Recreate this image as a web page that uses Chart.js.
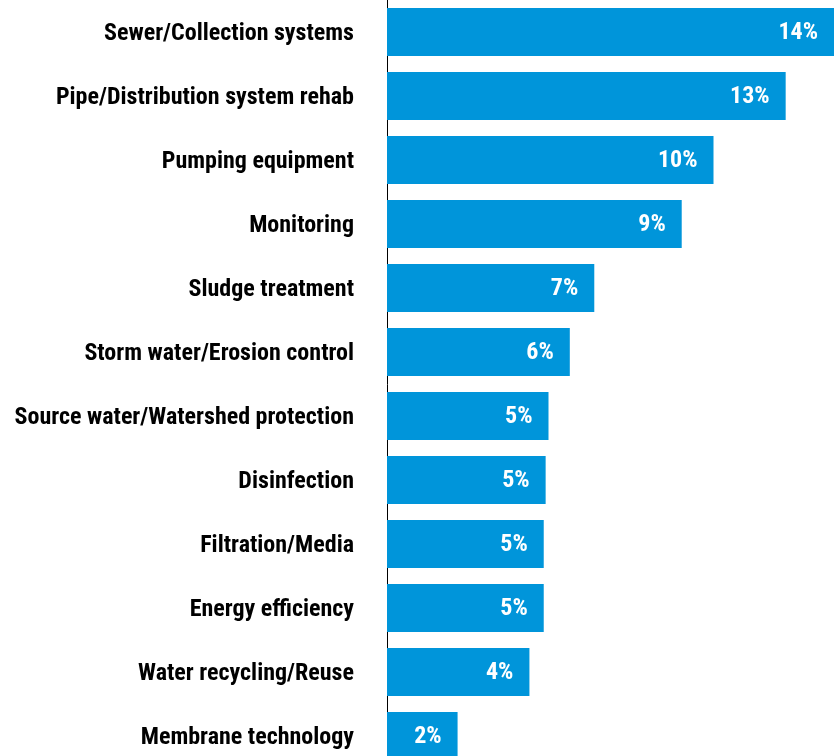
<!DOCTYPE html>
<html>
<head>
<meta charset="utf-8">
<script src="https://cdn.jsdelivr.net/npm/chart.js@4"></script>
<style>
  html, body { margin: 0; padding: 0; background: #fff; overflow: hidden; }
  #wrap { width: 834px; height: 768px; }
</style>
</head>
<body>
<div id="wrap"><canvas id="myChart" width="834" height="768"></canvas></div>
<script>
const categories = [
    "Sewer/Collection systems",
    "Pipe/Distribution system rehab",
    "Pumping equipment",
    "Monitoring",
    "Sludge treatment",
    "Storm water/Erosion control",
    "Source water/Watershed protection",
    "Disinfection",
    "Filtration/Media",
    "Energy efficiency",
    "Water recycling/Reuse",
    "Membrane technology"
];
const shares = [14.06, 12.54, 10.27, 9.27, 6.52, 5.75, 5.08, 4.99, 4.93, 4.93, 4.48, 2.22];

const barColor = "rgb(0, 149, 218)";
const fontFamily = "'Roboto Condensed', 'Liberation Sans Narrow', sans-serif";

window.addEventListener('DOMContentLoaded', () => {
    setChart();
});

// white percentage text at the end of each bar
const valueLabels = {
    id: 'valueLabels',
    afterDatasetsDraw(chart) {
        const ctx = chart.ctx;
        const meta = chart.getDatasetMeta(0);
        ctx.save();
        ctx.fillStyle = '#fff';
        ctx.font = "bold 24px " + fontFamily;
        ctx.textAlign = 'right';
        ctx.textBaseline = 'middle';
        meta.data.forEach((bar, i) => {
            ctx.fillText(Math.round(shares[i]) + '%', bar.x - 16, bar.y + 1);
        });
        ctx.restore();
    }
};

function setChart() {
    const ctx = document.getElementById('myChart').getContext('2d');
    new Chart(ctx, {
        type: 'bar',
        data: {
            labels: categories,
            datasets: [{
                data: shares,
                backgroundColor: barColor,
                borderWidth: 0,
                categoryPercentage: 1,
                barPercentage: 0.75
            }]
        },
        options: {
            indexAxis: 'y',
            responsive: false,
            animation: false,
            layout: { padding: 0 },
            plugins: {
                legend: { display: false },
                tooltip: { enabled: false }
            },
            scales: {
                x: {
                    display: false,
                    min: 0,
                    max: 14.06
                },
                y: {
                    afterFit: (scale) => {
                        scale.width = 387;
                        // tick padding is only wanted sideways, not above/below
                        scale.paddingTop = 0;
                        scale.paddingBottom = 0;
                    },
                    grid: { display: false, drawTicks: false },
                    border: { display: true, color: '#000', width: 1 },
                    ticks: {
                        padding: 33,
                        labelOffset: 2,
                        color: '#000',
                        font: { family: fontFamily, size: 24, weight: 'bold' }
                    }
                }
            }
        },
        plugins: [valueLabels]
    });
}
</script>
</body>
</html>
